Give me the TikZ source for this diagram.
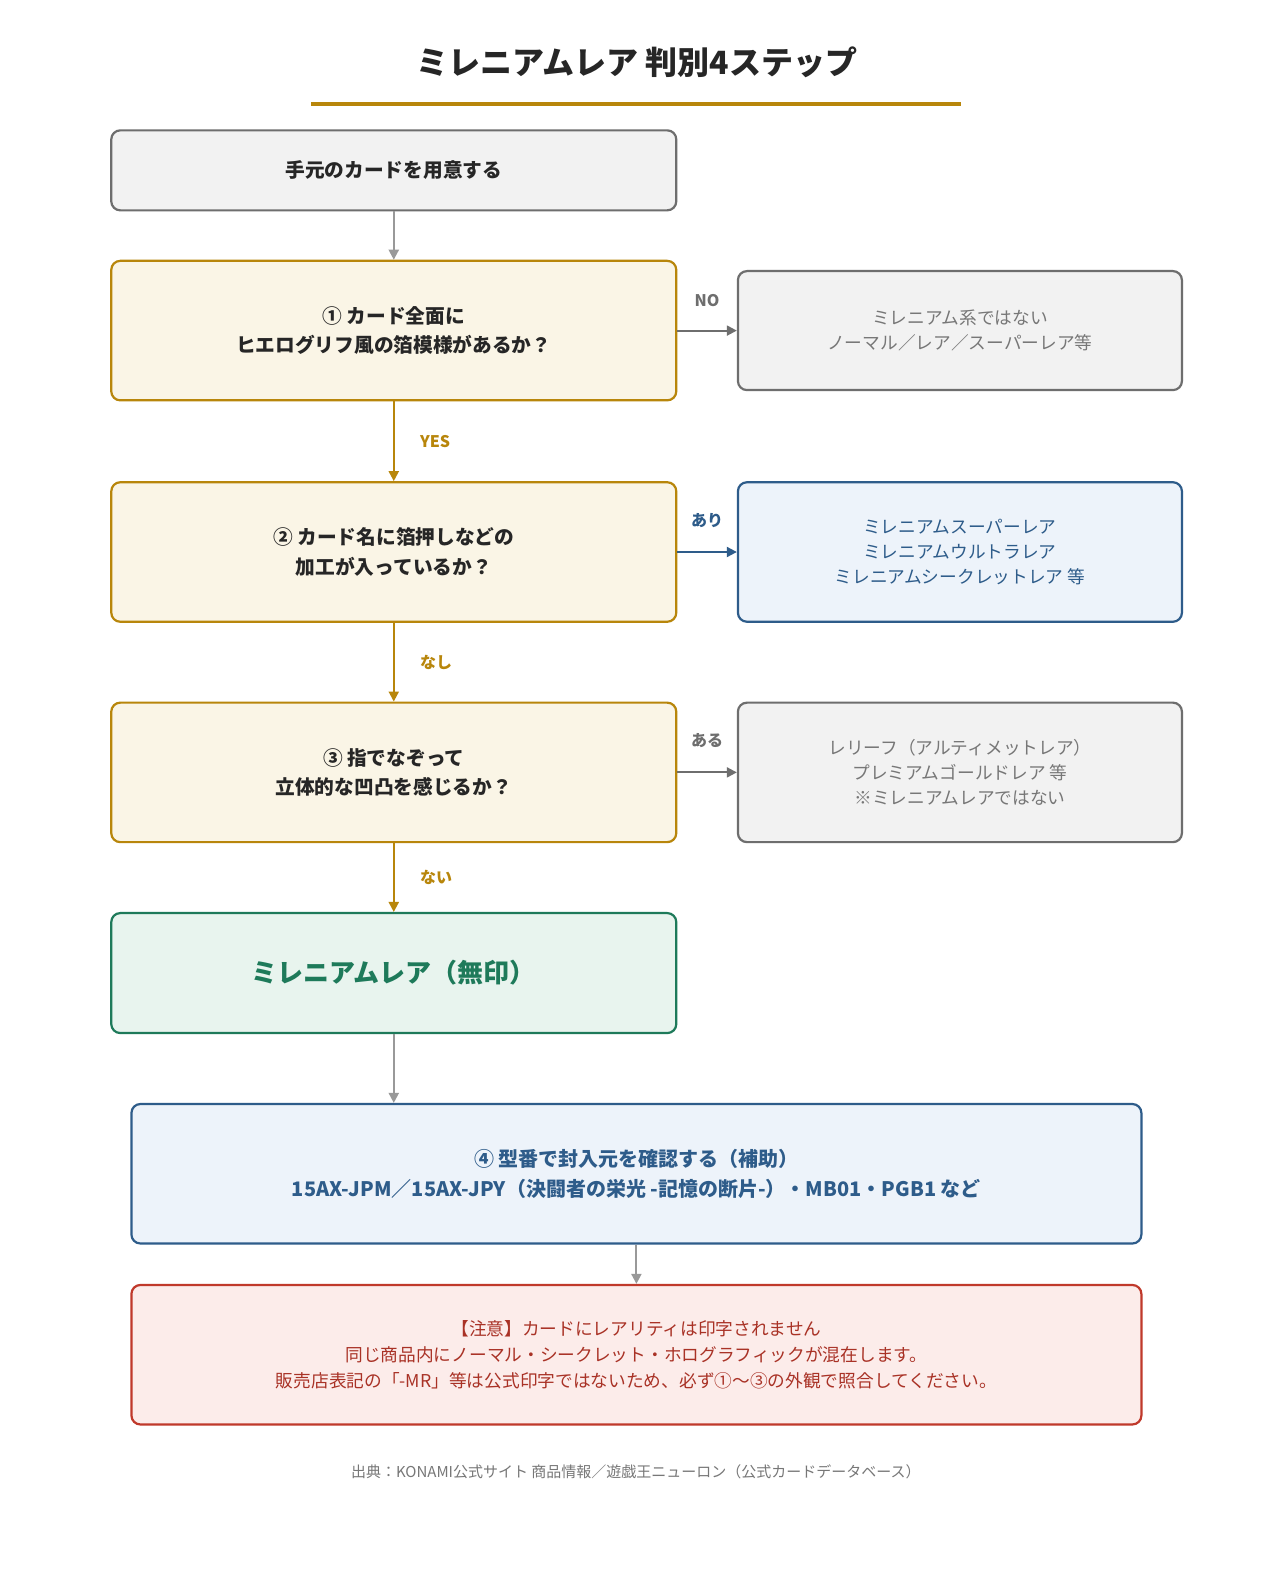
\documentclass[tikz,border=0pt]{standalone}
\usepackage{fontspec}
\setmainfont{Noto Sans CJK JP}
\usetikzlibrary{arrows.meta}
\definecolor{gold}{HTML}{B8860B}
\definecolor{goldfill}{HTML}{FAF5E6}
\definecolor{grayb}{HTML}{6E6E6E}
\definecolor{grayfill}{HTML}{F2F2F2}
\definecolor{grayt}{HTML}{777777}
\definecolor{blueb}{HTML}{2E5C8A}
\definecolor{bluefill}{HTML}{EDF3FA}
\definecolor{greenb}{HTML}{1E7A5A}
\definecolor{greenfill}{HTML}{E8F4EE}
\definecolor{redb}{HTML}{C0392B}
\definecolor{redfill}{HTML}{FCECEA}
\definecolor{redt}{HTML}{A93226}
\definecolor{arrg}{HTML}{999999}
\begin{document}
\begin{tikzpicture}[x=1.011pt,y=-1.011pt,
 box/.style={draw, line width=2.2pt, rounded corners=9pt, align=center, inner sep=0pt, font=\fontsize{19.7}{29.5}\selectfont\bfseries},
 gbox/.style={box, draw=grayb, fill=grayfill, text=black!85},
 qbox/.style={box, draw=gold, fill=goldfill, text=black!85},
 sgbox/.style={box, draw=grayb, fill=grayfill, text=grayt, font=\fontsize{17.7}{24.8}\selectfont\mdseries},
 sbbox/.style={box, draw=blueb, fill=bluefill, text=blueb, font=\fontsize{17.7}{24.8}\selectfont\mdseries},
 arr/.style={line width=2pt, -{Triangle[length=10pt,width=10pt]}},
 lab/.style={font=\fontsize{16}{18}\selectfont\bfseries}]
\useasboundingbox (0,0) rectangle (1258.2,1566.8);
\fill[white] (0,0) rectangle (1258.2,1566.8);
\node[font=\fontsize{32}{36}\selectfont\bfseries, text=black!85] (title) at (630,62) {ミレニアムレア 判別4ステップ};
\draw[gold, line width=3.5pt] (308,103) -- (951,103);

\node[gbox, minimum width=565pt, minimum height=80pt] (s0) at (389.5,168.5) {手元のカードを用意する};
\node[qbox, minimum width=565pt, minimum height=139.5pt] (q1) at (389.5,327) {① カード全面に\\ヒエログリフ風の箔模様があるか？};
\node[sgbox, minimum width=444pt, minimum height=119pt] (r1) at (949.5,327) {ミレニアム系ではない\\ノーマル／レア／スーパーレア等};
\node[qbox, minimum width=565pt, minimum height=139.5pt] (q2) at (389.5,546) {② カード名に箔押しなどの\\加工が入っているか？};
\node[sbbox, minimum width=444pt, minimum height=139.5pt] (r2) at (949.5,546) {ミレニアムスーパーレア\\ミレニアムウルトラレア\\ミレニアムシークレットレア 等};
\node[qbox, minimum width=565pt, minimum height=139.5pt] (q3) at (389.5,764) {③ 指でなぞって\\立体的な凹凸を感じるか？};
\node[sgbox, minimum width=444pt, minimum height=139.5pt] (r3) at (949.5,764) {レリーフ（アルティメットレア）\\プレミアムゴールドレア 等\\※ミレニアムレアではない};
\node[box, draw=greenb, fill=greenfill, text=greenb, font=\fontsize{26}{30}\selectfont\bfseries, minimum width=565pt, minimum height=120pt] (mr) at (389.5,962.5) {ミレニアムレア（無印）};
\node[box, draw=blueb, fill=bluefill, text=blueb, font=\fontsize{20}{30}\selectfont\bfseries, minimum width=1010pt, minimum height=139.5pt] (s4) at (629.5,1161) {④ 型番で封入元を確認する（補助）\\15AX-JPM／15AX-JPY（決闘者の栄光 -記憶の断片-）・MB01・PGB1 など};
\node[box, draw=redb, fill=redfill, text=redt, font=\fontsize{17.7}{26.3}\selectfont\mdseries, minimum width=1010pt, minimum height=139.5pt] (nt) at (629.5,1340) {【注意】カードにレアリティは印字されません\\同じ商品内にノーマル・シークレット・ホログラフィックが混在します。\\販売店表記の「-MR」等は公式印字ではないため、必ず①〜③の外観で照合してください。};
\node[text=grayt, font=\fontsize{15}{17}\selectfont] (src) at (629,1456) {出典：KONAMI公式サイト 商品情報／遊戯王ニューロン（公式カードデータベース）};

\draw[arr, arrg] (s0) -- (q1);
\draw[arr, gold] (q1) -- node[lab, text=gold, right=22pt] {YES} (q2);
\draw[arr, gold] (q2) -- node[lab, text=gold, right=22pt] {なし} (q3);
\draw[arr, gold] (q3) -- node[lab, text=gold, right=22pt] {ない} (mr);
\draw[arr, arrg] (mr.south) -- (mr.south |- s4.north);
\draw[arr, arrg] (s4) -- (nt);
\draw[arr, grayb] (q1) -- node[lab, text=grayb, above=20pt] {NO} (r1);
\draw[arr, blueb] (q2) -- node[lab, text=blueb, above=20pt] {あり} (r2);
\draw[arr, grayb] (q3) -- node[lab, text=grayb, above=20pt] {ある} (r3);
\end{tikzpicture}
\end{document}
